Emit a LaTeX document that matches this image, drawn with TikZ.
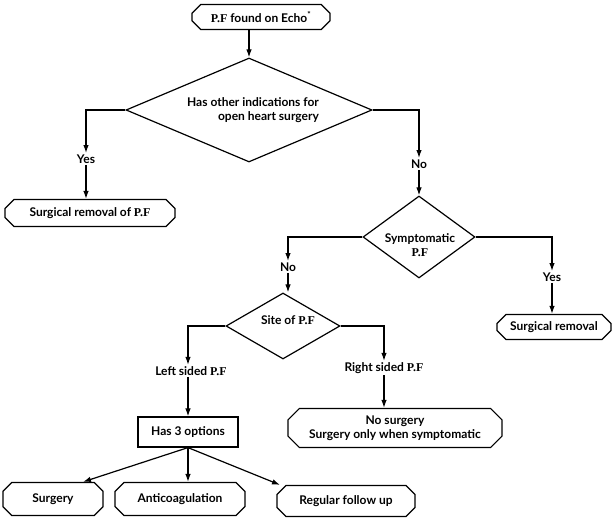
\documentclass[tikz,border=0pt]{standalone}
\usepackage{fontspec}
\setmainfont{Lato}
\newfontfamily\pffont{Liberation Serif}
\usetikzlibrary{shapes.misc,shapes.geometric,arrows.meta}
\newcommand{\pf}{{\pffont P.F}}
\begin{document}
\begin{tikzpicture}[x=1pt,y=-1pt,
  font=\fontsize{12}{14}\selectfont\bfseries,
  line width=1.2pt,
  arr/.style={-{Latex[length=8pt,width=5.5pt]}},
  oct/.style={draw, chamfered rectangle, chamfered rectangle xsep=8pt, inner sep=0pt, align=center},
  dia/.style={draw, diamond, inner sep=0pt, align=center},
  lbl/.style={inner sep=1pt},
  rectbox/.style={draw, rectangle, inner sep=0pt}]
\useasboundingbox (0,0) rectangle (614,518);

\node[oct, minimum width=138pt, minimum height=25pt] (top) at (261,17) {\pf\ found on Echo\textsuperscript{*}};
\node[dia, minimum width=246pt, minimum height=104pt] (d1) at (249,110) {};
\node[align=right, inner sep=0pt] (d1t) at (253,110) {Has other indications for\\open heart surgery\hspace{3pt}};

\node[lbl] (yes1) at (86,159) {Yes};
\node[oct, minimum width=170pt, minimum height=27pt] (box1) at (90,213) {Surgical removal of \pf};

\node[lbl] (no1) at (419,164) {No};
\node[dia, minimum width=112pt, minimum height=82pt] (d2) at (419,237) {};
\node[align=center, inner sep=0pt] (d2t) at (420,245) {Symptomatic\\\pf};

\node[lbl] (yes2) at (552,277) {Yes};
\node[oct, minimum width=114pt, minimum height=25pt] (box2) at (554,327) {Surgical removal};

\node[lbl] (no2) at (288,267) {No};
\node[dia, minimum width=114pt, minimum height=66pt] (d3) at (283,326) {};
\node[inner sep=0pt] (d3t) at (288,320) {Site of \pf};

\node[lbl] (left3) at (191,371) {Left sided \pf};
\node[lbl] (right3) at (384,368) {Right sided \pf};

\node[rectbox, minimum width=100pt, minimum height=30pt] (opts) at (188,432) {Has 3 options};
\node[oct, minimum width=214pt, minimum height=39pt] (rbox) at (395,428) {No surgery\\Surgery only when symptomatic};

\node[oct, minimum width=100pt, minimum height=33pt] (surg) at (53,499) {Surgery};
\node[oct, minimum width=130pt, minimum height=33pt] (anti) at (180,499) {Anticoagulation};
\node[oct, minimum width=138pt, minimum height=31pt] (reg) at (346,501) {Regular follow up};

% connectors
\draw[arr] (top.south -| d1.north) -- (d1.north);
\draw[arr] (d1.west) -| (yes1.north);
\draw[arr] (yes1.south) -- (yes1.south |- box1.north);
\draw[arr] (d1.east) -| (no1.north);
\draw[arr] (no1.south) -- (d2.north);
\draw[arr] (d2.east) -| (yes2.north);
\draw[arr] (yes2.south) -- (yes2.south |- box2.north);
\draw[arr] (d2.west) -| (no2.north);
\draw[arr] (no2.south) -- (no2.south |- d3.north);
\draw[arr] (d3.west) -| ([xshift=-3pt]left3.north);
\draw[arr] ([xshift=-3pt]left3.south) -- ([xshift=-3pt]left3.south |- opts.north);
\draw[arr] (d3.east) -| (right3.north);
\draw[arr] (right3.south) -- (right3.south |- rbox.north);
\draw[arr] (opts.south) -- ([xshift=30pt]surg.north);
\draw[arr] (opts.south) -- ([xshift=8pt]anti.north);
\draw[arr] (opts.south) -- ([xshift=-66pt]reg.north);
\end{tikzpicture}
\end{document}
